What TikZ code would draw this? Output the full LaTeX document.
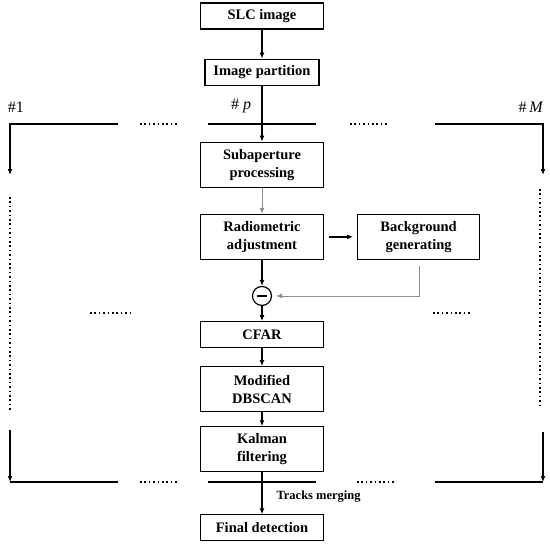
\documentclass[tikz,border=0pt]{standalone}
\usepackage{fontspec}
\setmainfont{Liberation Serif}
\usetikzlibrary{arrows.meta,positioning}
\definecolor{grayline}{HTML}{8C8C8C}
\newcommand{\boxfont}{\fontsize{14.5}{18}\selectfont\bfseries}

\begin{document}
\begin{tikzpicture}[x=1pt,y=-1pt,node distance=26pt,>={Latex[length=6pt,width=5pt]},
box/.style={draw,line width=1.1pt,minimum width=123pt,minimum height=26pt,align=center,font=\boxfont,inner sep=2pt},
tallbox/.style={box,minimum height=45pt},
link/.style={line width=1.4pt},
glink/.style={line width=0.9pt,draw=grayline},
dots/.style={line width=1.5pt,dash pattern=on 1.5pt off 2.9pt},
tag/.style={font=\fontsize{16}{18}\selectfont}]
\useasboundingbox (0,0) rectangle (550,546);
% main chain
\node[box] (slc) at (262,16) {SLC image};
\node[box,minimum width=114pt,below=29pt of slc] (part) {Image partition};
\node[tallbox,below=56pt of part] (sub) {Subaperture\\processing};
\node[tallbox,below=26pt of sub] (radio) {Radiometric\\adjustment};
\node[tallbox,minimum width=122pt,right=33pt of radio] (back) {Background\\generating};
\node[draw,circle,line width=1.2pt,minimum size=19pt,inner sep=0pt,below=26pt of radio] (minus) {};
\draw[line width=1.3pt] ([xshift=-5pt]minus.center) -- ([xshift=5pt]minus.center);
\node[box,below=15pt of minus] (cfar) {CFAR};
\node[tallbox,below=18pt of cfar] (dbscan) {Modified\\DBSCAN};
\node[tallbox,below=14pt of dbscan] (kalman) {Kalman\\filtering};
\node[box,below=42pt of kalman] (final) {Final detection};
\node[font=\fontsize{12.5}{14}\selectfont\bfseries,anchor=west] (merge) at (273,497) {Tracks merging};
% branch tags
\node[tag] (n1) at (16,107) {\#1};
\node[tag] (np) at (241,106) {\# \textit{p}};
\node[tag] (nM) at (531,107) {\#\,\textit{M}};
% branch ends
\coordinate (tla) at (118,124);
\coordinate (tl) at (10,124);
\coordinate (tlend) at (10,175);
\coordinate (tra) at (435,124);
\coordinate (tr) at (543,124);
\coordinate (trend) at (543,175);
\coordinate (bla) at (118,482);
\coordinate (bl) at (10,482);
\coordinate (blst) at (10,430);
\coordinate (bra) at (435,482);
\coordinate (br) at (543,482);
\coordinate (brst) at (543,432);
\draw[link,->] (tla) -- (tl) -- (tlend);
\draw[link,->] (tra) -- (tr) -- (trend);
\draw[link,->] (blst) -- (bl);
\draw[link] (bl) -- (bla);
\draw[link,->] (brst) -- (br);
\draw[link] (br) -- (bra);
\draw[link] (208,124) -- (316,124);
\draw[link] (208,482) -- (316,482);
% dotted parts
\draw[dots] (140,124) -- (178,124);
\draw[dots] (350,124) -- (388,124);
\draw[dots] (140,482) -- (178,482);
\draw[dots] (357,482) -- (395,482);
\draw[dots] (90,313) -- (130,313);
\draw[dots] (433,313) -- (471,313);
\draw[dots] (10,197) -- (10,412);
\draw[dots] (540,189) -- (540,406);
% connectors
\draw[link,->] (slc) -- (part);
\draw[link,->] (part) -- (sub);
\draw[glink,->] (sub) -- (radio);
\draw[link,->,shorten <=5pt,shorten >=4pt] (radio) -- (back);
\draw[link,->] (radio) -- (minus);
\draw[glink,->,shorten >=4pt] ([xshift=1pt,yshift=-6pt]back.south) |- (minus.east);
\draw[link,->] (minus) -- (cfar);
\draw[link,->] (cfar) -- (dbscan);
\draw[link,->] (dbscan) -- (kalman);
\draw[link,->] (kalman) -- (final);
\end{tikzpicture}
\end{document}
